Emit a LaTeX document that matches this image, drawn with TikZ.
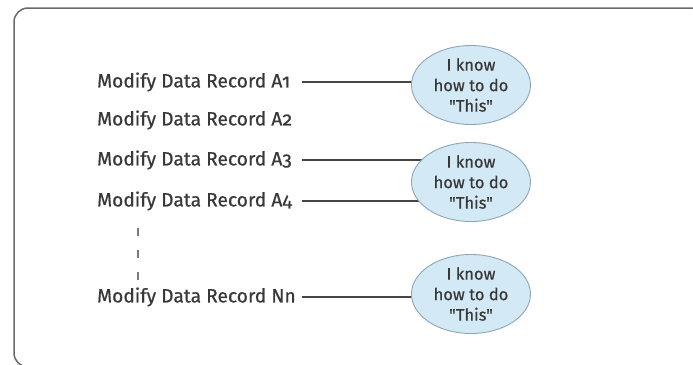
\documentclass[tikz,border=0pt]{standalone}
\usepackage{fontspec}
% plain family: old-style figures, straight quotes kept as typed
\newfontfamily\labelfont{Fira Sans}[Numbers=OldStyle, FakeBold=0.6]
\usetikzlibrary{shapes.geometric,backgrounds}
\definecolor{inkgray}{HTML}{383838}
\definecolor{linegray}{HTML}{454545}
\definecolor{framegray}{HTML}{6A6A6A}
\definecolor{dashgray}{HTML}{7A7A7A}
\definecolor{bubblefill}{HTML}{D3E9F6}
\definecolor{bubbleedge}{HTML}{8FA5B5}
\tikzset{
  record/.style={anchor=west, inner sep=0pt, text=inkgray,
    font=\labelfont\fontsize{19.2}{22}\selectfont},
  bubble/.style={ellipse, draw=bubbleedge, fill=bubblefill, line width=0.9pt,
    minimum width=119pt, minimum height=79pt, inner sep=0pt, align=center,
    text=inkgray, font=\labelfont\fontsize{16.5}{20.5}\selectfont},
  link/.style={draw=linegray, line width=1.3pt},
}
\begin{document}
\begin{tikzpicture}[x=1pt,y=-1pt]
  \useasboundingbox (0,0) rectangle (693,364);
  \begin{scope}
    \clip (0,0) rectangle (693,364);
    \draw[framegray, line width=1.5pt, rounded corners=14pt] (14,8) rectangle (704,367);
  \end{scope}

  % record labels
  \node[record] (a1) at (97,82) {Modify Data Record A1};
  \node[record] (a2) at (97,120) {Modify Data Record A2};
  \node[record] (a3) at (97,160) {Modify Data Record A3};
  \node[record] (a4) at (97,201) {Modify Data Record A4};
  \node[record] (nn) at (97,297) {Modify Data Record Nn};

  % the helpers
  \node[bubble] (e1) at (471,85) {I know\\how to do\\"This"};
  \node[bubble] (e2) at (471,182) {I know\\how to do\\"This"};
  \node[bubble] (e3) at (471,294) {I know\\how to do\\"This"};

  \coordinate (gapTop) at (138,228);
  \coordinate (gapBot) at (138,282);

  \begin{scope}[on background layer]
    \draw[link] (302,0 |- a1.east) -- (a1.east -| e1.center);
    \draw[link] (302,0 |- a3.east) -- (a3.east -| e2.center);
    \draw[link] (302,0 |- a4.east) -- (a4.east -| e2.center);
    \draw[link] (302,0 |- nn.east) -- (nn.east -| e3.center);
  \end{scope}
  \draw[dashgray, line width=1.1pt, dash pattern=on 8pt off 14pt] (gapTop) -- (gapBot);
\end{tikzpicture}
\end{document}
